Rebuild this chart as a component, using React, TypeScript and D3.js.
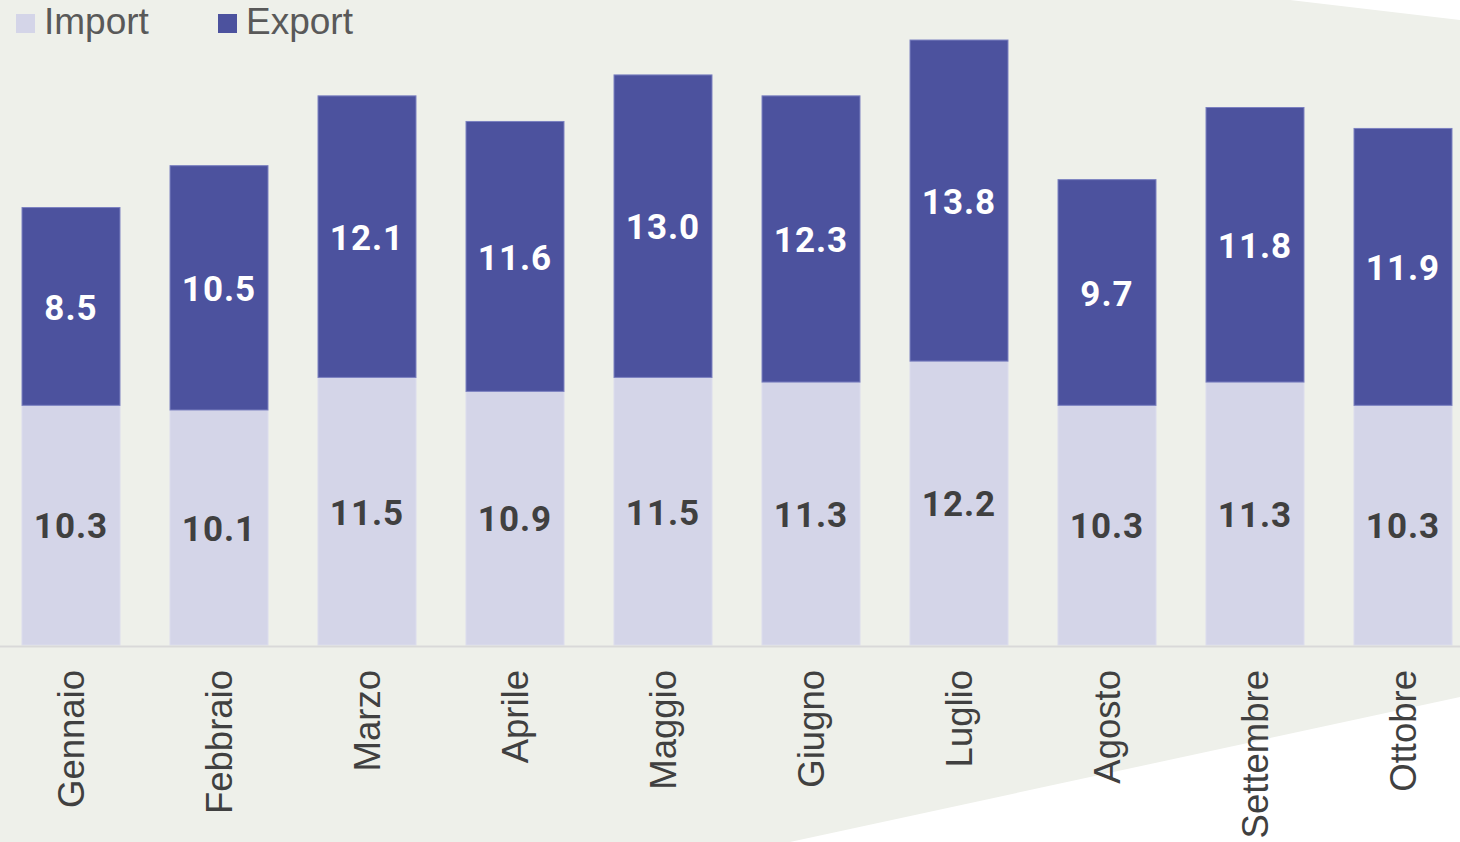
import React, { useEffect, useRef } from "react";
import * as d3 from "d3";

const months = ["Gennaio", "Febbraio", "Marzo", "Aprile", "Maggio", "Giugno", "Luglio", "Agosto", "Settembre", "Ottobre"];
const importValues = [10.3, 10.1, 11.5, 10.9, 11.5, 11.3, 12.2, 10.3, 11.3, 10.3];
const exportValues = [8.5, 10.5, 12.1, 11.6, 13.0, 12.3, 13.8, 9.7, 11.8, 11.9];
const seriesNames = ["Import", "Export"];

const W = 1460;
const H = 842;

export default function App() {
  const ref = useRef<SVGSVGElement | null>(null);

  useEffect(() => {
    const svg = d3.select(ref.current);
    svg.selectAll("*").remove();

    var baseY = 645;
    var colors = { Import: "#d4d5e8", Export: "#4c529e" };

    // background and white corner shapes
    svg.append("rect").attr("width", W).attr("height", H).attr("fill", "#eef0ea");
    svg.append("polygon").attr("points", "1290,0 1460,0 1460,20").attr("fill", "#ffffff");
    svg.append("polygon").attr("points", "790,842 1460,697 1460,842").attr("fill", "#ffffff");

    const x = d3.scaleBand().domain(months).range([-3, 1477]).paddingInner(0.338).paddingOuter(0.169);
    const y = d3.scaleLinear().domain([0, 27.72]).range([baseY, 0]);

    var data = months.map((m, i) => ({ month: m, Import: importValues[i], Export: exportValues[i] }));
    var stacked = d3.stack().keys(seriesNames)(data as any);

    const g = svg.append("g");
    stacked.forEach((layer) => {
      g.selectAll(".bar_" + layer.key)
        .data(layer)
        .join("rect")
        .attr("class", "bar_" + layer.key)
        .attr("x", (d: any) => x(d.data.month) as number)
        .attr("width", x.bandwidth())
        .attr("y", (d) => y(d[1]))
        .attr("height", (d) => y(d[0]) - y(d[1]))
        .attr("fill", colors[layer.key])
        .attr("stroke", layer.key === "Export" ? "#7b80c0" : "#dcdded")
        .attr("stroke-width", 1);

      g.selectAll(".lbl_" + layer.key)
        .data(layer)
        .join("text")
        .attr("class", "lbl_" + layer.key)
        .attr("x", (d: any) => (x(d.data.month) as number) + x.bandwidth() / 2)
        .attr("y", (d) => (y(d[0]) + y(d[1])) / 2)
        .attr("dy", "0.38em")
        .attr("text-anchor", "middle")
        .attr("font-family", "Roboto, sans-serif")
        .attr("font-weight", "bold")
        .attr("font-size", 35)
        .attr("letter-spacing", 1)
        .attr("fill", layer.key === "Export" ? "#ffffff" : "#404040")
        .text((d: any) => d.data[layer.key].toFixed(1));
    });

    // axis line
    svg.append("line")
      .attr("x1", 0)
      .attr("x2", W)
      .attr("y1", baseY + 1.5)
      .attr("y2", baseY + 1.5)
      .attr("stroke", "#d9d9d9")
      .attr("stroke-width", 2);

    // month labels
    svg.selectAll(".month_lbl")
      .data(months)
      .join("text")
      .attr("class", "month_lbl")
      .attr("transform", (d) => `translate(${(x(d) as number) + x.bandwidth() / 2}, 670) rotate(-90)`)
      .attr("dy", "0.36em")
      .attr("text-anchor", "end")
      .attr("font-family", "'Liberation Sans', Arial, sans-serif")
      .attr("font-size", 36.5)
      .attr("fill", "#404040")
      .text((d) => d);

    // legend
    var legendX = [16, 218];
    seriesNames.forEach((name, i) => {
      svg.append("rect")
        .attr("x", legendX[i])
        .attr("y", 14)
        .attr("width", 19)
        .attr("height", 19)
        .attr("fill", colors[name]);
      svg.append("text")
        .attr("x", legendX[i] + 28)
        .attr("y", 34)
        .attr("font-family", "'Liberation Sans', Arial, sans-serif")
        .attr("font-size", 37)
        .attr("fill", "#595959")
        .text(name);
    });
  }, []);

  return <svg ref={ref} width={W} height={H} style={{ position: "absolute", left: 0, top: 0 }} />;
}
